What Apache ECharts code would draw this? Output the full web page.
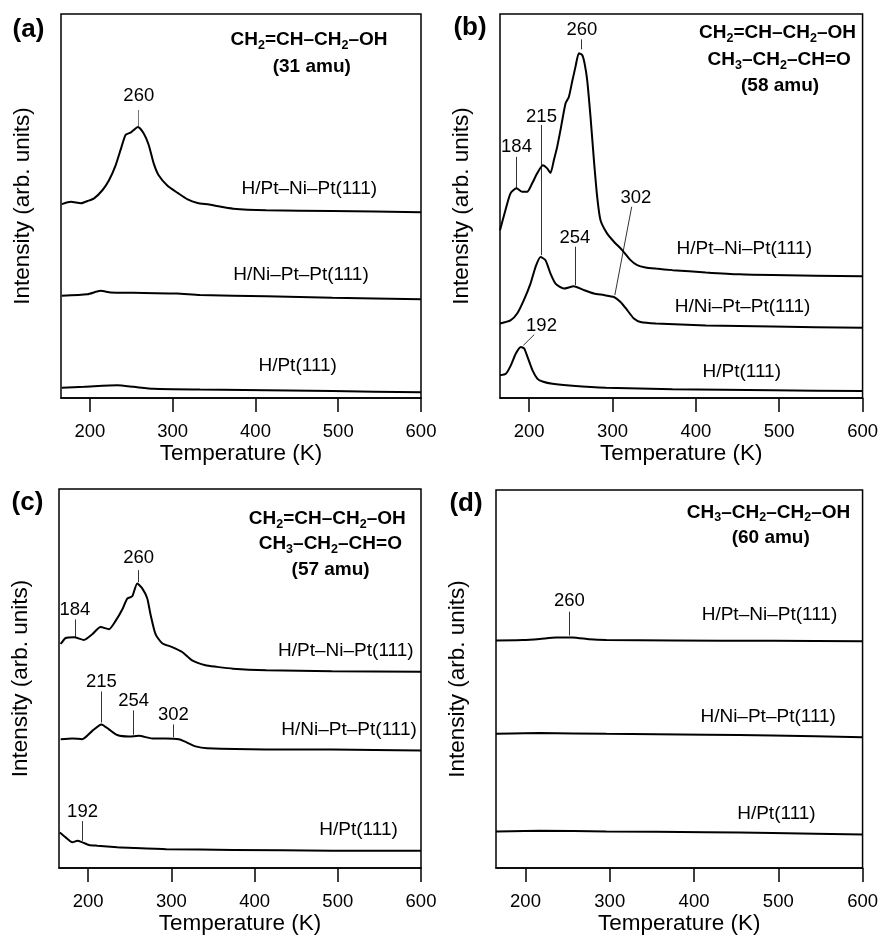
<!DOCTYPE html>
<html>
<head>
<meta charset="utf-8">
<script src="https://cdn.jsdelivr.net/npm/echarts@6/dist/echarts.min.js"></script>
<style>html,body{margin:0;padding:0;background:#fff}#c{width:881px;height:936px}</style>
</head>
<body>
<div id="c"></div>
<script>
// ---------- data ----------
const tickValues = [200, 300, 400, 500, 600];
const curveNames = ['H/Pt–Ni–Pt(111)', 'H/Ni–Pt–Pt(111)', 'H/Pt(111)'];

// (a) 31 amu
const aT1 = [166,177,189,197,205,215,223,231,237,243,249,258,265,271,277,283,294,306,318,330,344,353,373,413,493,600];
const aI1 = [50.5,51.1,50.7,51.3,52.0,54.1,56.7,60.6,64.6,68.5,69.1,70.6,68.9,65.9,61.1,58.0,55.2,53.4,51.7,50.8,50.4,50.0,49.3,48.9,48.7,48.4];
const aT2 = [166,197,213,225,253,305,333,413,493,600];
const aI2 = [26.6,27.0,27.9,27.5,27.4,27.2,26.8,26.5,26.1,25.7];
const aT3 = [166,193,233,253,277,333,493,600];
const aI3 = [2.7,2.9,3.3,2.9,2.4,2.2,1.8,1.5];

// (b) 58 amu
const bT1 = [165,171.5,177.6,184.8,191.6,197.6,203.6,209.6,216.4,221.6,225.6,229.6,233.6,237.6,243.6,247.6,251.6,255.6,259.6,263.6,266.4,269.6,273.6,277.7,281.6,285.6,293.6,301.7,311.6,321.6,329.6,339.6,352,372,412,452,492,600];
const bI1 = [43.7,48.9,53.3,54.6,53.7,53.7,55.9,58.5,60.6,59.8,58.6,61.9,65.4,69.8,76.7,78.4,82.4,86.3,89.8,89.3,87.2,82.8,73.2,61.9,52.4,46.3,42.8,40.7,38.5,35.9,34.6,34.0,33.7,33.3,32.7,32.2,32.0,31.7];
const bT2 = [165,177.6,185.6,193.6,201.6,207.6,213.6,219.6,225.6,231.6,241.6,253.6,265.6,277.7,289.6,301.7,309.6,317.6,325.6,333.6,352,412,492,600];
const bI2 = [19.4,20.2,22.0,25.5,29.8,34.1,36.7,35.9,32.4,29.8,28.5,29.1,28.1,27.2,26.8,26.3,25.0,22.9,20.7,19.8,19.4,18.9,18.6,18.3];
const bT3 = [165,172,178,184,190,194,198,204,210,216,228,252,292,372,492,600];
const bI3 = [5.9,6.3,8.5,11.6,13.3,12.9,10.7,7.2,5.0,4.3,3.7,3.2,2.7,2.3,2.0,1.8];

// (c) 57 amu
const cT1 = [167,173,183,195,205,215,225,233,241,247,253,259,265,271,275,281,289,301,313,325,341,354,374,414,493,600];
const cI1 = [59.1,60.7,60.9,60.2,61.7,63.6,63.0,65.2,68.2,71.1,71.7,75.1,73.8,71.2,66.9,61.7,59.3,58.3,57.0,54.8,53.5,53.1,52.6,52.2,51.9,51.8];
const cT2 = [167,181,193,205,216,225,235,249,261,277,293,309,319,329,343,414,493,600];
const cI2 = [34.0,34.2,34.0,36.2,37.9,36.6,35.1,34.7,34.9,34.2,34.2,34.0,33.1,32.1,31.6,31.3,31.3,31.0];
const cT3 = [166,173,181,187,193,201,211,235,255,294,374,493,600];
const cI3 = [9.4,8.1,6.8,7.2,6.8,6.1,5.9,5.5,5.3,5.0,4.8,4.6,4.6];

// (d) 60 amu
const dT1 = [165,197,217,236,256,276,296,375,493,600];
const dI1 = [60.2,60.3,60.6,61.0,61.0,60.5,60.3,60.2,60.1,60.0];
const dT2 = [165,217,296,414,493,600];
const dI2 = [35.5,35.7,35.5,35.3,35.1,34.6];
const dT3 = [165,217,296,414,493,600];
const dI3 = [9.7,9.9,9.7,9.5,9.3,8.9];

// peak labels (text, temperature, intensity) and leader lines
const aPeaks = [['260',259,78.6]];
const aLeaders = [[258,75.0,258,70.8]];
const bPeaks = [['260',263.2,95.8],['215',214.8,73.2],['184',184.8,65.4],['254',254.8,41.8],['302',328,52.1],['192',214.8,18.9]];
const bLeaders = [[262,93.4,262,90.8],[214.8,71.1,214.8,37.2],[184.8,62.8,184.8,54.7],[254.8,39.4,254.8,29.4],[323,49.8,302.8,26.8],[206,16.5,193,13.7]];
const cPeaks = [['260',260.7,81.8],['184',184.1,68.2],['215',215.9,49.0],['254',254.8,44.0],['302',302.4,40.5],['192',193.3,14.8]];
const cLeaders = [[260.7,78.6,260.7,75.4],[184.1,65.6,184.1,60.9],[215.9,46.6,215.9,38.4],[254.8,41.6,254.8,35.2],[302.4,37.9,302.4,34.5],[193.3,12.4,193.3,7.2]];
const dPeaks = [['260',252.1,70.6]];
const dLeaders = [[252.1,67.8,252.1,61.5]];

// curve-name label anchors [temperature, intensity] for the three curves
const aNameAt = [[465,54.4],[455,32.2],[451,8.5]];
const bNameAt = [[458,38.9],[456,23.7],[455,6.8]];
const cNameAt = [[509.7,57.4],[513.6,36.5],[525,10.2]];
const dNameAt = [[489.5,67.1],[488,40.0],[497.8,14.5]];

// formula blocks
const aFormula = [['CH{s|2}=CH–CH{s|2}–OH',464.7,93.2],['(31 amu)',468,86.3]];
const bFormula = [['CH{s|2}=CH–CH{s|2}–OH',498,95.0],['CH{s|3}–CH{s|2}–CH=O',500,88.0],['(58 amu)',501,81.2]];
const cFormula = [['CH{s|2}=CH–CH{s|2}–OH',487.4,92.2],['CH{s|3}–CH{s|2}–CH=O',491,85.5],['(57 amu)',491.4,78.8]];
const dFormula = [['CH{s|3}–CH{s|2}–CH{s|2}–OH',488.4,94.1],['(60 amu)',491,87.3]];

// ---------- layout ----------
const FONT = 'Liberation Sans';
const grids = [
  {left: 61, top: 14, width: 360, height: 384},
  {left: 500, top: 14, width: 363, height: 384},
  {left: 59, top: 489, width: 362, height: 385},
  {left: 496, top: 490, width: 367, height: 385}
];
const panels = [
  {curves: [[aT1,aI1],[aT2,aI2],[aT3,aI3]], peaks: aPeaks, leaders: aLeaders, names: aNameAt, formula: aFormula, letter: '(a)', lx: 28.5, ly: 30, lead: '#777'},
  {curves: [[bT1,bI1],[bT2,bI2],[bT3,bI3]], peaks: bPeaks, leaders: bLeaders, names: bNameAt, formula: bFormula, letter: '(b)', lx: 470, ly: 28, lead: '#333'},
  {curves: [[cT1,cI1],[cT2,cI2],[cT3,cI3]], peaks: cPeaks, leaders: cLeaders, names: cNameAt, formula: cFormula, letter: '(c)', lx: 27.5, ly: 503, lead: '#333'},
  {curves: [[dT1,dI1],[dT2,dI2],[dT3,dI3]], peaks: dPeaks, leaders: dLeaders, names: dNameAt, formula: dFormula, letter: '(d)', lx: 466, ly: 504, lead: '#333'}
];

const option = {
  animation: false,
  backgroundColor: '#fff',
  grid: grids.map(g => Object.assign({show: true, borderColor: '#000', borderWidth: 1.5, backgroundColor: 'transparent'}, g)),
  xAxis: grids.map((g, i) => ({
    gridIndex: i, type: 'value', min: 165, max: 600,
    name: 'Temperature (K)', nameLocation: 'middle', nameGap: 40,
    nameTextStyle: {fontFamily: FONT, fontSize: 22.5, color: '#000'},
    axisLine: {show: true, lineStyle: {color: '#000', width: 1.5}},
    axisTick: {show: true, inside: false, length: 14, customValues: tickValues, lineStyle: {color: '#000', width: 1.5}},
    axisLabel: {show: true, margin: 24, customValues: tickValues, fontFamily: FONT, fontSize: 18.5, color: '#000'},
    splitLine: {show: false}
  })),
  yAxis: grids.map((g, i) => ({
    gridIndex: i, type: 'value', min: 0, max: 100,
    name: 'Intensity (arb. units)', nameLocation: 'middle', nameGap: 27,
    nameTextStyle: {fontFamily: FONT, fontSize: 22.5, color: '#000'},
    axisLine: {show: false}, axisTick: {show: false}, axisLabel: {show: false}, splitLine: {show: false}
  })),
  graphic: panels.map(p => ({
    type: 'text', x: p.lx, y: p.ly,
    style: {text: p.letter, fontFamily: FONT, fontSize: 26, fontWeight: 'bold', fill: '#000', align: 'center', verticalAlign: 'middle'}
  })),
  series: []
};

panels.forEach((p, i) => {
  p.curves.forEach((c, k) => {
    option.series.push({
      type: 'line', name: curveNames[k], xAxisIndex: i, yAxisIndex: i,
      data: c[0].map((t, j) => [t, c[1][j]]),
      symbol: 'none', smooth: 0.2,
      lineStyle: {color: '#000', width: 2}
    });
  });
  option.series.push({
    type: 'lines', coordinateSystem: 'cartesian2d', xAxisIndex: i, yAxisIndex: i,
    data: p.leaders.map(l => ({coords: [[l[0], l[1]], [l[2], l[3]]]})),
    lineStyle: {color: p.lead, width: 1, opacity: 1}, symbol: 'none', silent: true
  });
  const labels = [];
  p.peaks.forEach(q => labels.push({value: [q[1], q[2]], label: {formatter: q[0], fontSize: 18.5}}));
  p.names.forEach((q, k) => labels.push({value: [q[0], q[1]], label: {formatter: curveNames[k], fontSize: 19}}));
  p.formula.forEach(q => labels.push({value: [q[1], q[2]], label: {formatter: q[0], fontSize: 19, fontWeight: 'bold', lineHeight: 24}}));
  option.series.push({
    type: 'scatter', xAxisIndex: i, yAxisIndex: i, symbolSize: 1,
    itemStyle: {color: 'transparent', opacity: 1}, silent: true,
    label: {
      show: true, position: 'inside', color: '#000', opacity: 1, fontFamily: FONT,
      textBorderWidth: 0,
      rich: {s: {fontSize: 12.5, fontWeight: 'bold', fontFamily: FONT, color: '#000', verticalAlign: 'bottom', lineHeight: 12}}
    },
    data: labels
  });
});

const chart = echarts.init(document.getElementById('c'), null, {renderer: 'canvas'});
chart.setOption(option);
</script>
</body>
</html>
